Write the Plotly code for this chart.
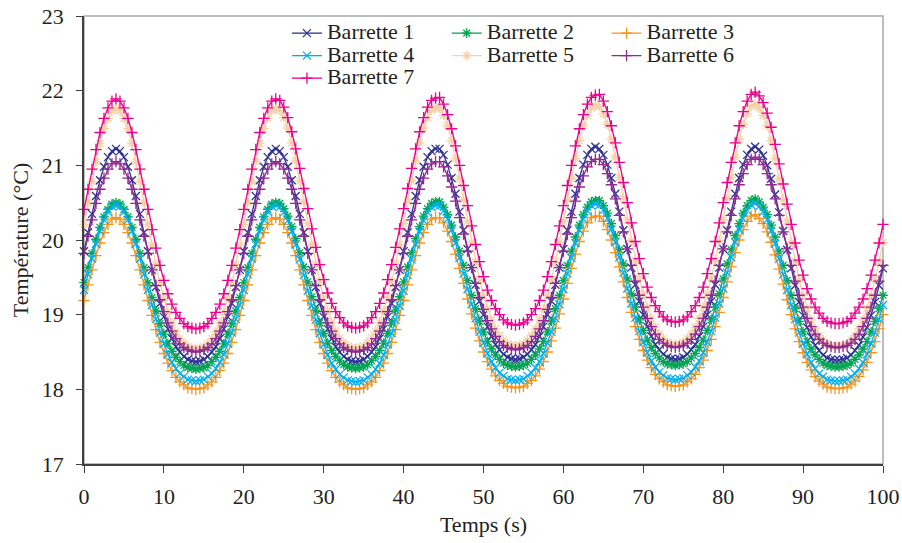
import plotly.graph_objects as go

# time axis (s), sampled every 0.5 s
temps = [i * 0.5 for i in range(201)]

barrette_1 = [
    19.85,20.10,20.35,20.59,20.80,20.98,21.11,21.19,21.22,
    21.19,21.11,20.98,20.80,20.59,20.35,20.10,19.85,19.60,19.37,19.15,18.97,18.81,18.68,18.57,18.50,18.44,18.40,18.38,18.37,
    18.38,18.40,18.44,18.50,18.57,18.68,18.81,18.97,19.15,19.37,19.60,19.85,20.10,20.35,20.59,20.80,20.98,21.11,21.19,21.22,
    21.19,21.11,20.98,20.80,20.59,20.35,20.10,19.85,19.60,19.37,19.15,18.97,18.81,18.68,18.57,18.50,18.44,18.40,18.38,18.37,
    18.38,18.40,18.44,18.50,18.57,18.68,18.81,18.97,19.15,19.37,19.60,19.85,20.10,20.35,20.59,20.80,20.98,21.11,21.19,21.22,
    21.22,21.14,21.01,20.83,20.62,20.38,20.13,19.88,19.63,19.40,19.18,19.00,18.84,18.71,18.60,18.53,18.47,18.43,18.41,18.40,
    18.41,18.43,18.47,18.53,18.60,18.71,18.84,19.00,19.18,19.40,19.63,19.88,20.13,20.38,20.62,20.83,21.01,21.14,21.22,21.25,
    21.22,21.14,21.01,20.83,20.62,20.38,20.13,19.88,19.63,19.40,19.18,19.00,18.84,18.71,18.60,18.53,18.47,18.43,18.41,18.40,
    18.41,18.43,18.47,18.53,18.60,18.71,18.84,19.00,19.18,19.40,19.63,19.88,20.13,20.38,20.62,20.83,21.01,21.14,21.22,21.25,
    21.21,21.13,21.00,20.82,20.61,20.37,20.12,19.87,19.62,19.39,19.17,18.99,18.83,18.70,18.59,18.52,18.46,18.42,18.40,18.39,
    18.39,18.40,18.42,18.46,18.52,18.59,18.70,18.83,18.99,19.17,19.39,19.62,
]

barrette_2 = [
    19.43,19.63,19.82,20.01,20.17,20.31,20.41,20.48,20.50,
    20.48,20.41,20.31,20.17,20.01,19.82,19.63,19.43,19.23,19.05,18.88,18.74,18.61,18.51,18.43,18.37,18.32,18.29,18.28,18.27,
    18.28,18.29,18.32,18.37,18.43,18.51,18.61,18.74,18.88,19.05,19.23,19.43,19.63,19.82,20.01,20.17,20.31,20.41,20.48,20.50,
    20.49,20.42,20.32,20.18,20.02,19.83,19.64,19.44,19.24,19.06,18.89,18.75,18.62,18.52,18.44,18.38,18.33,18.30,18.29,18.28,
    18.29,18.30,18.33,18.38,18.44,18.52,18.62,18.75,18.89,19.06,19.24,19.44,19.64,19.83,20.02,20.18,20.32,20.42,20.49,20.51,
    20.51,20.44,20.34,20.20,20.04,19.85,19.66,19.46,19.26,19.08,18.91,18.77,18.64,18.54,18.46,18.40,18.35,18.32,18.31,18.30,
    18.31,18.32,18.35,18.40,18.46,18.54,18.64,18.77,18.91,19.08,19.26,19.46,19.66,19.85,20.04,20.20,20.34,20.44,20.51,20.53,
    20.53,20.46,20.36,20.22,20.06,19.87,19.68,19.48,19.28,19.10,18.93,18.79,18.66,18.56,18.48,18.42,18.37,18.34,18.33,18.32,
    18.33,18.34,18.37,18.42,18.48,18.56,18.66,18.79,18.93,19.10,19.28,19.48,19.68,19.87,20.06,20.22,20.36,20.46,20.53,20.55,
    20.51,20.44,20.34,20.20,20.04,19.85,19.66,19.46,19.26,19.08,18.91,18.77,18.64,18.54,18.46,18.40,18.35,18.32,18.31,18.30,
    18.30,18.31,18.32,18.35,18.40,18.46,18.54,18.64,18.77,18.91,19.08,19.26,
]

barrette_3 = [
    19.19,19.40,19.60,19.79,19.96,20.10,20.21,20.28,20.30,
    20.28,20.21,20.10,19.96,19.79,19.60,19.40,19.19,18.99,18.80,18.63,18.48,18.35,18.25,18.16,18.10,18.06,18.02,18.01,18.00,
    18.01,18.02,18.06,18.10,18.16,18.25,18.35,18.48,18.63,18.80,18.99,19.19,19.40,19.60,19.79,19.96,20.10,20.21,20.28,20.30,
    20.28,20.21,20.10,19.96,19.79,19.60,19.40,19.19,18.99,18.80,18.63,18.48,18.35,18.25,18.16,18.10,18.06,18.02,18.01,18.00,
    18.01,18.02,18.06,18.10,18.16,18.25,18.35,18.48,18.63,18.80,18.99,19.19,19.40,19.60,19.79,19.96,20.10,20.21,20.28,20.30,
    20.30,20.23,20.12,19.98,19.81,19.62,19.42,19.21,19.01,18.82,18.65,18.50,18.37,18.27,18.18,18.12,18.08,18.04,18.03,18.02,
    18.03,18.04,18.08,18.12,18.18,18.27,18.37,18.50,18.65,18.82,19.01,19.21,19.42,19.62,19.81,19.98,20.12,20.23,20.30,20.32,
    20.32,20.25,20.14,20.00,19.83,19.64,19.44,19.23,19.03,18.84,18.67,18.52,18.39,18.29,18.20,18.14,18.10,18.06,18.05,18.04,
    18.05,18.06,18.10,18.14,18.20,18.29,18.39,18.52,18.67,18.84,19.03,19.23,19.44,19.64,19.83,20.00,20.14,20.25,20.32,20.34,
    20.29,20.22,20.11,19.97,19.80,19.61,19.41,19.20,19.00,18.81,18.64,18.49,18.36,18.26,18.17,18.11,18.07,18.03,18.02,18.01,
    18.01,18.02,18.03,18.07,18.11,18.17,18.26,18.36,18.49,18.64,18.81,19.00,
]

barrette_4 = [
    19.33,19.54,19.75,19.95,20.12,20.27,20.38,20.45,20.47,
    20.45,20.38,20.27,20.12,19.95,19.75,19.54,19.33,19.13,18.94,18.76,18.61,18.47,18.36,18.28,18.21,18.17,18.13,18.12,18.11,
    18.12,18.13,18.17,18.21,18.28,18.36,18.47,18.61,18.76,18.94,19.13,19.33,19.54,19.75,19.95,20.12,20.27,20.38,20.45,20.47,
    20.44,20.37,20.26,20.11,19.94,19.74,19.53,19.32,19.12,18.93,18.75,18.60,18.46,18.35,18.27,18.20,18.16,18.12,18.11,18.10,
    18.11,18.12,18.16,18.20,18.27,18.35,18.46,18.60,18.75,18.93,19.12,19.32,19.53,19.74,19.94,20.11,20.26,20.37,20.44,20.46,
    20.46,20.39,20.28,20.13,19.96,19.76,19.55,19.34,19.14,18.95,18.77,18.62,18.48,18.37,18.29,18.22,18.18,18.14,18.13,18.12,
    18.13,18.14,18.18,18.22,18.29,18.37,18.48,18.62,18.77,18.95,19.14,19.34,19.55,19.76,19.96,20.13,20.28,20.39,20.46,20.48,
    20.47,20.40,20.29,20.14,19.97,19.77,19.56,19.35,19.15,18.96,18.78,18.63,18.49,18.38,18.30,18.23,18.19,18.15,18.14,18.13,
    18.14,18.15,18.19,18.23,18.30,18.38,18.49,18.63,18.78,18.96,19.15,19.35,19.56,19.77,19.97,20.14,20.29,20.40,20.47,20.49,
    20.45,20.38,20.27,20.12,19.95,19.75,19.54,19.33,19.13,18.94,18.76,18.61,18.47,18.36,18.28,18.21,18.17,18.13,18.12,18.11,
    18.11,18.12,18.13,18.17,18.21,18.28,18.36,18.47,18.61,18.76,18.94,19.13,
]

barrette_5 = [
    20.21,20.50,20.78,21.05,21.29,21.49,21.63,21.73,21.76,
    21.73,21.63,21.49,21.29,21.05,20.78,20.50,20.21,19.93,19.67,19.43,19.22,19.04,18.89,18.77,18.68,18.62,18.57,18.55,18.54,
    18.55,18.57,18.62,18.68,18.77,18.89,19.04,19.22,19.43,19.67,19.93,20.21,20.50,20.78,21.05,21.29,21.49,21.63,21.73,21.76,
    21.74,21.64,21.50,21.30,21.06,20.79,20.51,20.22,19.94,19.68,19.44,19.23,19.05,18.90,18.78,18.69,18.63,18.58,18.56,18.55,
    18.56,18.58,18.63,18.69,18.78,18.90,19.05,19.23,19.44,19.68,19.94,20.22,20.51,20.79,21.06,21.30,21.50,21.64,21.74,21.77,
    21.77,21.67,21.53,21.33,21.09,20.82,20.54,20.25,19.97,19.71,19.47,19.26,19.08,18.93,18.81,18.72,18.66,18.61,18.59,18.58,
    18.59,18.61,18.66,18.72,18.81,18.93,19.08,19.26,19.47,19.71,19.97,20.25,20.54,20.82,21.09,21.33,21.53,21.67,21.77,21.80,
    21.79,21.69,21.55,21.35,21.11,20.84,20.56,20.27,19.99,19.73,19.49,19.28,19.10,18.95,18.83,18.74,18.68,18.63,18.61,18.60,
    18.61,18.63,18.68,18.74,18.83,18.95,19.10,19.28,19.49,19.73,19.99,20.27,20.56,20.84,21.11,21.35,21.55,21.69,21.79,21.82,
    21.77,21.67,21.53,21.33,21.09,20.82,20.54,20.25,19.97,19.71,19.47,19.26,19.08,18.93,18.81,18.72,18.66,18.61,18.59,18.58,
    18.58,18.59,18.61,18.66,18.72,18.81,18.93,19.08,19.26,19.47,19.71,19.97,
]

barrette_6 = [
    19.82,20.05,20.27,20.49,20.68,20.83,20.95,21.02,21.05,
    21.02,20.95,20.83,20.68,20.49,20.27,20.05,19.82,19.60,19.39,19.20,19.04,18.89,18.78,18.68,18.61,18.56,18.53,18.51,18.50,
    18.51,18.53,18.56,18.61,18.68,18.78,18.89,19.04,19.20,19.39,19.60,19.82,20.05,20.27,20.49,20.68,20.83,20.95,21.02,21.05,
    21.02,20.95,20.83,20.68,20.49,20.27,20.05,19.82,19.60,19.39,19.20,19.04,18.89,18.78,18.68,18.61,18.56,18.53,18.51,18.50,
    18.51,18.53,18.56,18.61,18.68,18.78,18.89,19.04,19.20,19.39,19.60,19.82,20.05,20.27,20.49,20.68,20.83,20.95,21.02,21.05,
    21.05,20.98,20.86,20.71,20.52,20.30,20.08,19.85,19.63,19.42,19.23,19.07,18.92,18.81,18.71,18.64,18.59,18.56,18.54,18.53,
    18.54,18.56,18.59,18.64,18.71,18.81,18.92,19.07,19.23,19.42,19.63,19.85,20.08,20.30,20.52,20.71,20.86,20.98,21.05,21.08,
    21.08,21.01,20.89,20.74,20.55,20.33,20.11,19.88,19.66,19.45,19.26,19.10,18.95,18.84,18.74,18.67,18.62,18.59,18.57,18.56,
    18.57,18.59,18.62,18.67,18.74,18.84,18.95,19.10,19.26,19.45,19.66,19.88,20.11,20.33,20.55,20.74,20.89,21.01,21.08,21.11,
    21.08,21.01,20.89,20.74,20.55,20.33,20.11,19.88,19.66,19.45,19.26,19.10,18.95,18.84,18.74,18.67,18.62,18.59,18.57,18.56,
    18.56,18.57,18.59,18.62,18.67,18.74,18.84,18.95,19.10,19.26,19.45,19.66,
]

barrette_7 = [
    20.41,20.68,20.95,21.21,21.44,21.63,21.77,21.86,21.89,
    21.86,21.77,21.63,21.44,21.21,20.95,20.68,20.41,20.14,19.89,19.66,19.46,19.28,19.14,19.03,18.95,18.88,18.84,18.82,18.81,
    18.82,18.84,18.88,18.95,19.03,19.14,19.28,19.46,19.66,19.89,20.14,20.41,20.68,20.95,21.21,21.44,21.63,21.77,21.86,21.89,
    21.87,21.78,21.64,21.45,21.22,20.96,20.69,20.42,20.15,19.90,19.67,19.47,19.29,19.15,19.04,18.96,18.89,18.85,18.83,18.82,
    18.83,18.85,18.89,18.96,19.04,19.15,19.29,19.47,19.67,19.90,20.15,20.42,20.69,20.96,21.22,21.45,21.64,21.78,21.87,21.90,
    21.91,21.82,21.68,21.49,21.26,21.00,20.73,20.46,20.19,19.94,19.71,19.51,19.33,19.19,19.08,19.00,18.93,18.89,18.87,18.86,
    18.87,18.89,18.93,19.00,19.08,19.19,19.33,19.51,19.71,19.94,20.19,20.46,20.73,21.00,21.26,21.49,21.68,21.82,21.91,21.94,
    21.95,21.86,21.72,21.53,21.30,21.04,20.77,20.50,20.23,19.98,19.75,19.55,19.37,19.23,19.12,19.04,18.97,18.93,18.91,18.90,
    18.91,18.93,18.97,19.04,19.12,19.23,19.37,19.55,19.75,19.98,20.23,20.50,20.77,21.04,21.30,21.53,21.72,21.86,21.95,21.98,
    21.93,21.84,21.70,21.51,21.28,21.02,20.75,20.48,20.21,19.96,19.73,19.53,19.35,19.21,19.10,19.02,18.95,18.91,18.89,18.88,
    18.88,18.89,18.91,18.95,19.02,19.10,19.21,19.35,19.53,19.73,19.96,20.21,
]

noms = ["Barrette 1", "Barrette 2", "Barrette 3", "Barrette 4",
        "Barrette 5", "Barrette 6", "Barrette 7"]
series = [barrette_1, barrette_2, barrette_3, barrette_4,
          barrette_5, barrette_6, barrette_7]
couleurs = ["#2E3192", "#00A651", "#F7941D", "#00AEEF",
            "#F9CFA5", "#92278F", "#EC008C"]
symboles = ["x-thin-open", "asterisk-open", "cross-thin-open", "x-thin-open",
            "asterisk-open", "cross-thin-open", "cross-thin-open"]
legendes = ["legend", "legend2", "legend3", "legend", "legend2", "legend3", "legend"]

FONT = "Liberation Serif, Times New Roman, serif"
TXT = "#231F20"
SPAN = "<span style=\"font-family:'Liberation Serif', 'Times New Roman', serif; font-size:22px\">"

fig = go.Figure()
for nom, vals, c, s, lg in zip(noms, series, couleurs, symboles, legendes):
    fig.add_trace(go.Scatter(
        x=temps[:len(vals)], y=vals, mode="lines+markers",
        name=SPAN + nom + "</span>",
        legend=lg, cliponaxis=False,
        line=dict(color=c, width=1.3),
        marker=dict(symbol=s, size=8, color=c, line=dict(color=c, width=1.3)),
    ))

leg_common = dict(xanchor="left", yanchor="top", orientation="v",
                  bgcolor="rgba(0,0,0,0)", borderwidth=0,
                  font=dict(family=FONT, size=15, color=TXT))

fig.update_layout(
    width=902, height=543,
    margin=dict(l=84, r=19, t=16, b=79, autoexpand=False),
    paper_bgcolor="white", plot_bgcolor="white",
    font=dict(family=FONT, size=22, color=TXT),
    showlegend=True,
    xaxis=dict(range=[0, 100], tick0=0, dtick=10, ticks="outside", ticklen=7,
               tickwidth=1.2, tickcolor="#404040", showline=True,
               linecolor="#404040", linewidth=1.5, showgrid=False,
               zeroline=False, ticklabelstandoff=5, automargin=False,
               title=dict(text="Temps (s)", standoff=8,
                          font=dict(family=FONT, size=22, color=TXT)),
               tickfont=dict(family=FONT, size=22, color=TXT)),
    yaxis=dict(range=[17, 23], tick0=17, dtick=1, ticks="outside", ticklen=6,
               tickwidth=1.2, tickcolor="#404040", showline=True,
               linecolor="#404040", linewidth=1.5, showgrid=False,
               zeroline=False, ticklabelstandoff=8, automargin=False,
               title=dict(text="Température (°C)", standoff=7,
                          font=dict(family=FONT, size=22, color=TXT)),
               tickfont=dict(family=FONT, size=22, color=TXT)),
    shapes=[dict(type="rect", xref="paper", yref="paper", x0=0, x1=1, y0=0, y1=1,
                 line=dict(color="#A7A9AC", width=1.5), layer="below")],
    legend=dict(x=0.254, y=0.998, **leg_common),
    legend2=dict(x=0.454, y=0.998, **leg_common),
    legend3=dict(x=0.654, y=0.998, **leg_common),
)

fig.write_html("out.html", config={"displayModeBar": False},
               post_script="document.body.style.margin='0px';document.body.style.padding='0px';")
